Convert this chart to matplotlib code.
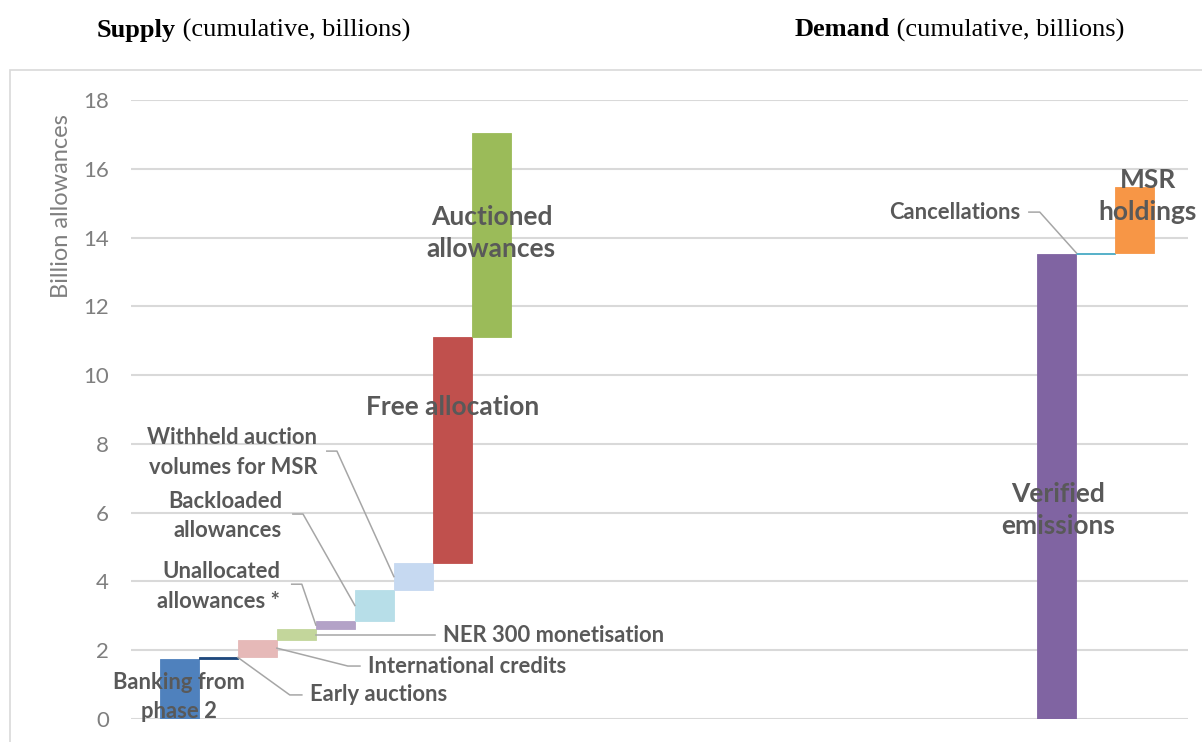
import matplotlib.pyplot as plt
import numpy as np
from matplotlib.patches import Rectangle

# EU ETS supply vs demand, cumulative, billion allowances
supply_labels = [
    "Banking from\nphase 2",
    "Early auctions",
    "International credits",
    "NER 300 monetisation",
    "Unallocated\nallowances *",
    "Backloaded\nallowances",
    "Withheld auction\nvolumes for MSR",
    "Free allocation",
    "Auctioned\nallowances",
]
supply_values = [1.74, 0.07, 0.49, 0.31, 0.24, 0.90, 0.78, 6.57, 5.93]
supply_colors = ["#4f81bd", "#1f497d", "#e6b9b8", "#c3d69b", "#b3a2c7",
                 "#b7dee8", "#c6d9f1", "#c0504d", "#9bbb59"]

demand_labels = ["Verified\nemissions", "Cancellations", "MSR\nholdings"]
demand_values = [13.53, 0.02, 1.91]
demand_colors = ["#8064a2", "#4bacc6", "#f79646"]

y_ticks = np.arange(0, 19, 2)

GREY = "#595959"
AXGREY = "#7f7f7f"
LEADER = "#a6a6a6"
SANS = "Lato"
SMALL = 15.8
LARGE = 19

fig = plt.figure(figsize=(12.02, 7.42), dpi=100)
ax = fig.add_axes([131 / 1202, 23 / 742, 1057 / 1202, 619 / 742])

supply_x = np.arange(len(supply_values))
demand_x = 22.5 + np.arange(len(demand_values))


def waterfall(x, values, colors):
    values = np.asarray(values)
    bottoms = np.concatenate([[0.0], np.cumsum(values)[:-1]])
    ax.bar(x, values, bottom=bottoms, width=1.0, color=colors,
           edgecolor=colors, linewidth=0.6, zorder=2)
    return bottoms


sb = waterfall(supply_x, supply_values, supply_colors)
db = waterfall(demand_x, demand_values, demand_colors)

ax.set_xlim(-1.24, 25.86)
ax.set_ylim(0, 18)
ax.set_yticks(y_ticks)
ax.set_xticks([])
ax.tick_params(axis="y", length=0, pad=16, labelsize=16, labelcolor=AXGREY)
for lab in ax.get_yticklabels():
    lab.set_fontfamily(SANS)
ax.grid(axis="y", color="#d9d9d9", lw=1.5)
ax.set_axisbelow(True)
for s in ax.spines.values():
    s.set_visible(False)

# data labels: (x, y, ha, size)
label_pos = {
    supply_labels[0]: (0.0, 0.64, "center", SMALL),
    supply_labels[1]: (3.35, 0.70, "left", SMALL),
    supply_labels[2]: (4.83, 1.54, "left", SMALL),
    supply_labels[3]: (6.76, 2.44, "left", SMALL),
    supply_labels[4]: (2.58, 3.86, "right", SMALL),
    supply_labels[5]: (2.63, 5.90, "right", SMALL),
    supply_labels[6]: (3.53, 7.75, "right", SMALL),
    supply_labels[7]: (7.0, 9.07, "center", LARGE),
    supply_labels[8]: (8.0, 14.12, "center", LARGE),
    demand_labels[0]: (22.52, 6.08, "center", LARGE),
    demand_labels[1]: (21.55, 14.74, "right", SMALL),
    demand_labels[2]: (24.83, 15.20, "center", LARGE),
}
for text, (x, y, ha, size) in label_pos.items():
    ax.text(x, y, text, ha=ha, va="center", fontsize=size, family=SANS,
            fontweight="bold", color=GREY,
            linespacing=1.5 if size == SMALL else 1.4, zorder=4)

# leader lines from label to bar
leaders = [
    [(1.5, 1.79), (2.83, 0.70), (3.14, 0.70)],
    [(2.5, 2.06), (4.32, 1.54), (4.63, 1.54)],
    [(3.5, 2.45), (6.55, 2.45)],
    [(2.88, 3.92), (3.14, 3.92), (3.5, 2.73)],
    [(2.91, 5.96), (3.17, 5.96), (4.5, 3.30)],
    [(3.78, 7.79), (4.04, 7.79), (5.5, 4.14)],
    [(21.78, 14.74), (22.06, 14.74), (23.0, 13.55)],
]
for pts in leaders:
    xs, ys = zip(*pts)
    ax.plot(xs, ys, color=LEADER, lw=1.1, zorder=3)

fig.text(62 / 1202, 1 - 206 / 742, "Billion allowances", rotation=90,
         ha="center", va="center", fontsize=17, family=SANS, color=AXGREY)

# headings
for x0, word in [(97, "Supply"), (795, "Demand")]:
    t = fig.text(x0 / 1202, 1 - 30 / 742, word, ha="left", va="center",
                 fontsize=19, family="Liberation Serif", fontweight="bold")
    ax.annotate(" (cumulative, billions)", xy=(1, 0), xycoords=t,
                ha="left", va="bottom", fontsize=19,
                family="Liberation Serif", annotation_clip=False)

fig.patches.append(Rectangle((10 / 1202, -0.05), 2, 0.956,
                             transform=fig.transFigure, fill=False,
                             edgecolor="#d9d9d9", lw=1.2))

fig.savefig("out.png", dpi=100)
